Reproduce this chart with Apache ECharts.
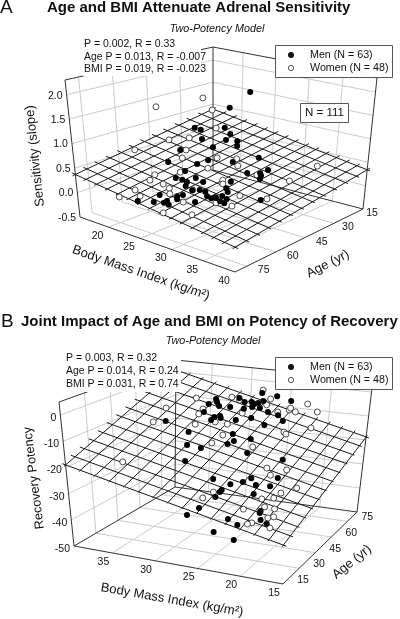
<!DOCTYPE html>
<html><head><meta charset="utf-8"><style>html,body{margin:0;padding:0;background:#fff}#c{width:400px;height:619px}</style>
<script src="https://cdn.jsdelivr.net/npm/echarts@6/dist/echarts.min.js"></script></head><body><div id="c"></div>
<script>
// Each record: [BMI (kg/m2), age (yr)]
const aMen=[[16.6,27,.67],[18.2,29,.71],[21.0,37,.72],[21.4,33,.50],[20.2,45,.57],[22.2,57,.57],[22.8,45,.37],[24.2,44,.49],[25.1,58,.51],[23.3,57,.28],[26.1,56,.37],[28.2,59,.42],[24.3,57,.28],[26.0,60,.35],[27.4,65,.40],[26.8,60,.21],[28.3,61,.29],[30.1,64,.37],[29.1,60,.18],[30.7,63,.25],[32.1,65,.34],[24.9,70,.19],[27.3,69,.25],[28.9,74,.33],[26.6,64,.17],[27.3,74,.23],[28.1,78,.29],[26.9,72,.11],[26.2,77,.21],[25.0,81,.24],[28.8,65,.13],[21.2,15,1.45],[18.1,15,1.00],[19.0,20,.65],[21.5,25,.67],[23.1,32,.70],[22.6,25,.55],[24.2,30,.58],[29.2,35,.58],[25.8,37,.40],[31.0,36,.40],[30.6,45,.47],[29.8,36,.29],[31.5,41,.38],[32.6,45,.42],[28.7,47,.25],[30.2,54,.29],[32.0,59,.36],[30.2,56,.16],[30.7,61,.24],[33.1,63,.33],[30.8,59,.13],[32.4,62,.20],[36.2,56,.31]];
const aWomen=[[15.6,20,1.21],[15.7,42,1.30],[16.7,19,.96],[16.5,39,.57],[18.7,36,.65],[17.4,58,.65],[19.8,41,.50],[21.8,49,.52],[25.6,44,.59],[18.3,22,.65],[23.7,56,.40],[26.4,51,.51],[21.0,60,.30],[22.5,67,.35],[23.7,78,.36],[21.8,80,.17],[24.1,77,.24],[25.2,69,.41],[24.5,64,.22],[26.5,70,.28],[28.8,66,.39],[27.9,68,.14],[28.9,81,.17],[32.4,78,.23],[30.8,61,.13],[26.4,37,.49],[28.8,44,.54],[34.0,21,.33],[34.7,37,.32],[31.8,44,.46],[34.7,48,.14],[28.7,51,.35],[30.3,56,.41],[31.7,52,.16],[33.6,62,.19]];
const bMen=[[35.8,59,-12.3],[33.0,72,-7.9],[32.1,72,-5.5],[33.1,78,-8.9],[31.9,73,-8.6],[31.9,63,-8.1],[31.9,70,-12.3],[31.2,64,-11.4],[30.1,64,-9.3],[31.3,71,-12.8],[30.7,74,-8.9],[31.4,50,-12.1],[31.6,50,-17.4],[29.6,48,-17.1],[29.1,34,-17.7],[26.5,38,-24.6],[24.4,31,-25.5],[23.7,25,-24.0],[25.0,30,-28.2],[28.6,84,-5.3],[26.7,84,-5.9],[24.9,84,-7.3],[30.7,80,-6.9],[29.3,76,-6.8],[29.9,79,-10.9],[29.3,81,-8.4],[28.1,76,-7.2],[29.4,82,-10.9],[28.5,81,-8.5],[27.2,75,-8.2],[28.4,84,-8.6],[26.7,78,-10.7],[24.9,75,-10.3],[25.1,80,-14.5],[27.7,72,-11.6],[25.2,67,-11.9],[29.6,72,-13.2],[28.0,61,-14.8],[26.5,53,-14.5],[28.1,58,-18.0],[25.8,61,-15.9],[24.4,50,-17.3],[21.8,61,-22.6],[20.2,47,-24.2],[22.0,38,-22.1],[23.6,42,-25.7],[24.0,35,-24.4],[21.0,35,-23.2],[20.8,45,-27.0],[21.1,34,-26.4],[18.7,23,-27.9],[19.8,30,-31.6],[18.7,23,-31.2],[17.3,18,-30.2],[22.2,21,-32.0],[20.4,16,-31.6],[20.7,15,-37.0],[23.0,15,-35.3],[24.9,17,-28.0],[26.0,15,-30.6]];
const bWomen=[[35.3,76,-7.5],[36.3,62,-8.0],[35.4,49,-9.6],[33.7,72,-10.3],[32.9,65,-9.9],[31.5,55,-10.5],[30.1,69,-14.2],[28.7,58,-14.6],[28.3,48,-14.5],[26.0,27,-28.1],[24.9,28,-25.6],[34.4,23,-17.4],[28.5,84,-4.0],[27.5,84,-7.4],[30.9,76,-5.4],[31.2,83,-8.9],[27.6,82,-9.3],[28.3,69,-8.9],[22.8,84,-7.8],[21.5,84,-10.7],[24.4,80,-9.6],[24.9,84,-10.3],[24.1,83,-11.3],[25.3,77,-9.8],[21.8,82,-16.8],[23.4,71,-15.4],[22.5,67,-14.5],[25.7,62,-19.4],[22.0,50,-22.2],[20.5,43,-21.9],[20.5,56,-24.3],[17.6,45,-26.2],[18.2,36,-25.3],[19.6,40,-29.3],[20.0,33,-27.4],[20.4,21,-27.4],[19.8,34,-30.7],[18.2,31,-29.6],[17.2,23,-29.3],[18.7,29,-32.6],[19.3,20,-31.6],[19.1,15,-30.2],[17.9,25,-34.5],[30.7,64,-12.0]];
// Fitted surface height at the four corners of the BMI/age range
const aSurface=[0.89,0.34,0.37,-0.03];
const bSurface=[-35.7,-19,-18.7,0.7];
// Tick labels
const aBmiTicks=[20,25,30,35,40], aAgeTicks=[15,30,45,60,75], aValTicks=[-0.5,0,0.5,1,1.5,2];
const bBmiTicks=[15,20,25,30,35], bAgeTicks=[15,30,45,60,75], bValTicks=[-50,-40,-30,-20,-10,0];

// Box ranges and how the box sits on the page
const panelA={bmi:[15.5,40],age:[15,81],z:[-0.5,2.3],mesh:aSurface,
 f:[[213,170],[363,209],[80,217],[235,272]],t:[[213,47],[377,78],[65,80],[236,124]]};
const panelB={bmi:[15,39.5],age:[15,84],z:[-50,5],mesh:bSurface,
 f:[[283,584],[74,546],[357,512],[175,487]],t:[[284,434],[59,402],[373,380],[176,360]]};
function prj(p,u,v,w){const bl=(c,i)=>(c[0][i]*(1-u)+c[1][i]*u)*(1-v)+(c[2][i]*(1-u)+c[3][i]*u)*v;
 return [bl(p.f,0)*(1-w)+bl(p.t,0)*w, bl(p.f,1)*(1-w)+bl(p.t,1)*w];}
function P(p,b,a,z){return prj(p,(b-p.bmi[0])/(p.bmi[1]-p.bmi[0]),(a-p.age[0])/(p.age[1]-p.age[0]),(z-p.z[0])/(p.z[1]-p.z[0]));}
function surf(p,u,v){const m=p.mesh;return (m[0]*(1-u)+m[1]*u)*(1-v)+(m[2]*(1-u)+m[3]*u)*v;}
const BR=['-','-'];
const seg=(a,b)=>[a,b,BR];
function build(p,o){const g=[],d=[],m=[];const B=p.bmi,A=p.age,Z=p.z;
 for(const b of o.bmiT){g.push(...seg(P(p,b,A[0],Z[0]),P(p,b,A[1],Z[0])));g.push(...seg(P(p,b,o.wallAge,Z[0]),P(p,b,o.wallAge,Z[1])));}
 for(const a of o.ageT){g.push(...seg(P(p,B[0],a,Z[0]),P(p,B[1],a,Z[0])));g.push(...seg(P(p,o.wallBmi,a,Z[0]),P(p,o.wallBmi,a,Z[1])));}
 for(const z of o.zT){g.push(...seg(P(p,o.wallBmi,A[0],z),P(p,o.wallBmi,A[1],z)));g.push(...seg(P(p,B[0],o.wallAge,z),P(p,B[1],o.wallAge,z)));}
 for(const e of o.dark){d.push(...seg(P(p,...e[0]),P(p,...e[1])));}
 const sp=(u,v)=>prj(p,u,v,(surf(p,u,v)-Z[0])/(Z[1]-Z[0]));
 for(let i=0;i<=o.nb;i++){const u=i/o.nb;m.push(...seg(sp(u,-o.over),sp(u,1+o.over)));}
 for(let j=0;j<=o.na;j++){const v=j/o.na;m.push(...seg(sp(-o.over,v),sp(1+o.over,v)));}
 return {g,d,m};}
const optA={bmiT:[20,25,30,35],ageT:[30,45,60,75],zT:[0,.5,1,1.5,2],wallAge:15,wallBmi:15.5,nb:15,na:12,over:.02,
 dark:[[[15.5,81,-.5],[40,81,-.5]],[[40,81,-.5],[40,15,-.5]],[[40,15,-.5],[15.5,15,-.5]],[[15.5,81,-.5],[15.5,81,2.3]],[[15.5,15,-.5],[15.5,15,2.3]],[[40,15,-.5],[40,15,2.3]],[[15.5,81,2.3],[15.5,15,2.3]],[[15.5,15,2.3],[40,15,2.3]]]};
const optB={bmiT:[20,25,30,35],ageT:[30,45,60,75],zT:[-40,-30,-20,-10,0],wallAge:84,wallBmi:39.5,nb:15,na:12,over:.015,
 dark:[[[39.5,15,-50],[15,15,-50]],[[15,15,-50],[15,84,-50]],[[15,84,-50],[39.5,84,-50]],[[39.5,84,-50],[39.5,15,-50]],[[39.5,15,-50],[39.5,15,5]],[[39.5,84,-50],[39.5,84,5]],[[15,84,-50],[15,84,5]],[[39.5,15,5],[39.5,84,5]],[[39.5,84,5],[15,84,5]]]};
const ga=build(panelA,optA),gb=build(panelB,optB);
const ln=(data,color,z)=>({type:'line',data,symbol:'none',silent:true,animation:false,z,clip:false,connectNulls:false,lineStyle:{color,width:1}});
const sc=(name,data,fill,z)=>({name,type:'scatter',data,symbolSize:6,silent:true,animation:false,z,clip:false,itemStyle:{color:fill,opacity:1,borderColor:'#222',borderWidth:fill==='#fff'?.8:0}});
const FF='"Liberation Sans",Arial,sans-serif';
const T=(text,x,y,o={})=>({type:'text',x,y,z:o.z||50,rotation:(o.rot||0)*Math.PI/180,style:{text,font:`${o.st||''} ${o.w||''} ${o.s||10.5}px ${FF}`,fill:o.c||'#111',align:o.a||'left',verticalAlign:'middle'}});
const R=(x,y,w,h,st)=>({type:'rect',z:40,shape:{x,y,width:w,height:h},style:st});
const C=(x,y,f)=>({type:'circle',z:50,shape:{cx:x,cy:y,r:f==='#fff'?2.6:3},style:{fill:f,stroke:'#222',lineWidth:f==='#fff'?.8:0}});
const els=[];
aValTicks.forEach(z=>{const q=P(panelA,15.5,81,z);els.push(T(z.toFixed(1),q[0]-4,q[1]+1,{a:'right'}));});
aBmiTicks.forEach(b=>{const q=P(panelA,b,81,-.5);els.push(T(''+b,q[0]-11,q[1]+9,{a:'center'}));});
const aAgeDx=[9,14,17,17,17];
aAgeTicks.forEach((a,i)=>{const q=P(panelA,40,a,-.5);els.push(T(''+a,q[0]+aAgeDx[i],q[1]+4,{a:'center'}));});
bValTicks.forEach(z=>{const q=P(panelB,39.5,15,z);els.push(T(''+z,q[0]-4,q[1]+3,{a:'right'}));});
bBmiTicks.forEach(b=>{const q=P(panelB,b,15,-50);els.push(T(''+b,q[0]-9,q[1]+9,{a:'center'}));});
bAgeTicks.forEach(a=>{const q=P(panelB,15,a,-50);els.push(T(''+a,q[0]+20,q[1]-4,{a:'center'}));});
els.push(T('A',0,8,{s:19}),T('B',1,322,{s:19}));
els.push(T('Age and BMI Attenuate Adrenal Sensitivity',47,8,{w:'bold',s:15}));
els.push(T('Joint Impact of Age and BMI on Potency of Recovery',21,322,{w:'bold',s:15}));
els.push(T('Two-Potency Model',217,29,{a:'center',s:10.8,st:'italic'}),T('Two-Potency Model',213,341,{a:'center',s:10.8,st:'italic'}));
els.push(R(83,37,118,39,{fill:'#fff'}),T('P = 0.002, R = 0.33',84,44),T('Age P = 0.013, R = -0.007',84,57),T('BMI P = 0.019, R = -0.023',84,69));
els.push(R(65,351,116,41,{fill:'#fff'}),T('P = 0.003, R = 0.32',66,358),T('Age P = 0.014, R = 0.24',66,371),T('BMI P = 0.031, R = 0.74',66,384));
for(const y of [45,357]){els.push(R(275.5,y+.5,117,32,{fill:'#fff',stroke:'#555',lineWidth:1}),C(291,y+10,'#111'),C(291,y+23,'#fff'),T('Men (N = 63)',310,y+10,{s:10.7}),T('Women (N = 48)',310,y+23,{s:10.7}));}
els.push(R(300.5,103.5,48,19,{fill:'#fff',stroke:'#555',lineWidth:1}),T('N = 111',324.5,113,{a:'center',s:11.5}));
els.push(T('Sensitivity (slope)',35,156,{a:'center',s:13,rot:96}),T('Body Mass Index (kg/m²)',141,273,{a:'center',s:13,rot:-19}),T('Age (yr)',328,264,{a:'center',s:13,rot:27}));
els.push(T('Recovery Potency',34,478,{a:'center',s:12.7,rot:97}),T('Body Mass Index (kg/m²)',172,600,{a:'center',s:13,rot:-10}),T('Age (yr)',352,562,{a:'center',s:13,rot:39}));
const ch=echarts.init(document.getElementById('c'),null,{renderer:'canvas'});
ch.setOption({animation:false,backgroundColor:'#fff',
 grid:{left:0,right:0,top:0,bottom:0},
 xAxis:{type:'value',min:0,max:400,show:false},yAxis:{type:'value',min:0,max:619,inverse:true,show:false},
 series:[ln(ga.g,'#ccc',1),ln(gb.g,'#ccc',1),ln(ga.d,'#333',2),ln(gb.d,'#333',2),ln(ga.m,'#1a1a1a',3),ln(gb.m,'#1a1a1a',3),
 sc('Women A',aWomen.map(r=>P(panelA,...r)),'#fff',4),sc('Women B',bWomen.map(r=>P(panelB,...r)),'#fff',4),sc('Men A',aMen.map(r=>P(panelA,...r)),'#000',5),sc('Men B',bMen.map(r=>P(panelB,...r)),'#000',5)],
 graphic:{elements:els}});
</script></body></html>
